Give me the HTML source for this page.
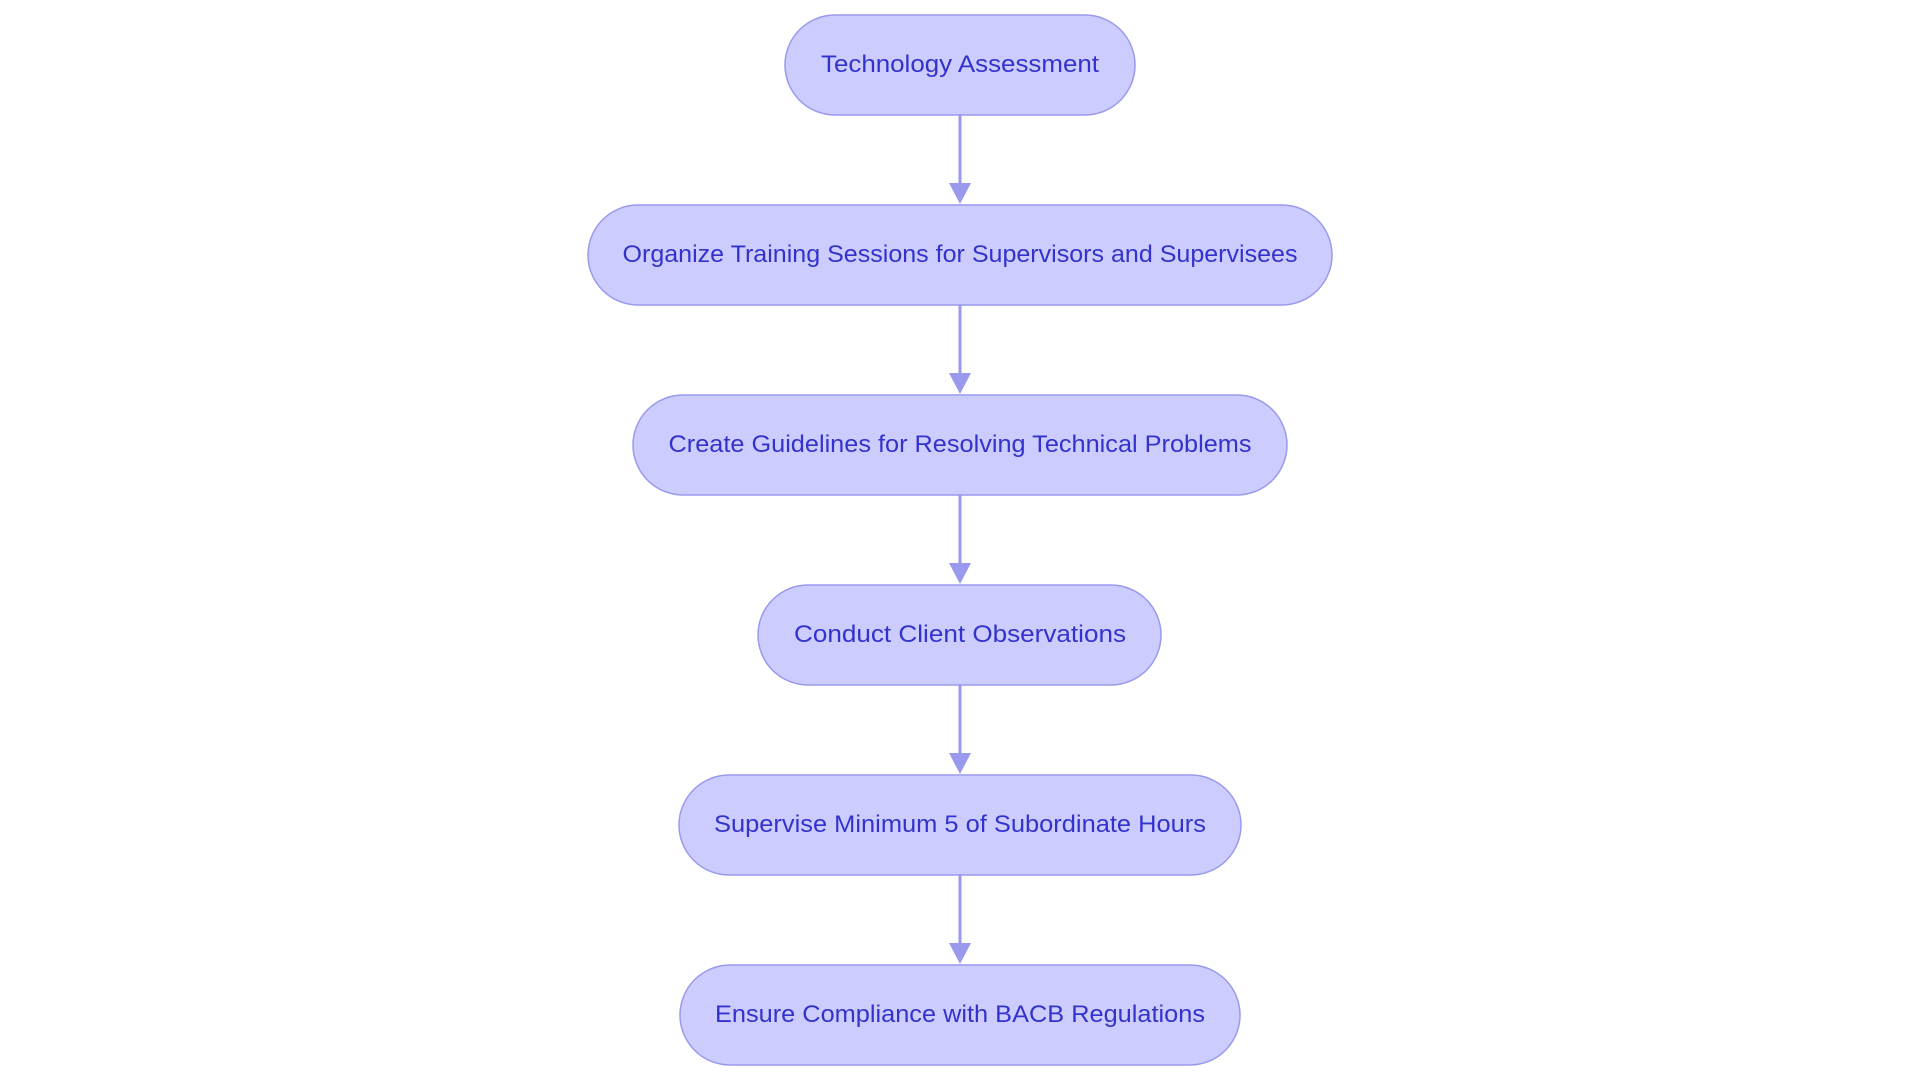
<!DOCTYPE html>
<html><head><meta charset="utf-8"><style>html,body{margin:0;padding:0;background:#fff;}svg{display:block}</style></head>
<body>
<svg width="1920" height="1083" viewBox="0 0 1920 1083" xmlns="http://www.w3.org/2000/svg">
<g fill="#ccccff" stroke="#9999ee" stroke-width="1.5">
<rect x="785" y="15" width="350" height="100" rx="50"/>
<rect x="588" y="205" width="744" height="100" rx="50"/>
<rect x="633" y="395" width="654" height="100" rx="50"/>
<rect x="758" y="585" width="403" height="100" rx="50"/>
<rect x="679" y="775" width="562" height="100" rx="50"/>
<rect x="680" y="965" width="560" height="100" rx="50"/>
</g>
<g stroke="#9999ee" stroke-width="3">
<line x1="960" y1="115" x2="960" y2="185"/>
<line x1="960" y1="305" x2="960" y2="375"/>
<line x1="960" y1="495" x2="960" y2="565"/>
<line x1="960" y1="685" x2="960" y2="755"/>
<line x1="960" y1="875" x2="960" y2="945"/>
</g>
<g fill="#9999ee">
<path d="M949 183 L971 183 L960 204 Z"/>
<path d="M949 373 L971 373 L960 394 Z"/>
<path d="M949 563 L971 563 L960 584 Z"/>
<path d="M949 753 L971 753 L960 774 Z"/>
<path d="M949 943 L971 943 L960 964 Z"/>
</g>
<g fill="#3333cc" font-family="Liberation Sans, sans-serif" font-size="24" text-anchor="middle" lengthAdjust="spacingAndGlyphs">
<text x="960" y="72" textLength="278" lengthAdjust="spacingAndGlyphs">Technology Assessment</text>
<text x="960" y="262" textLength="675" lengthAdjust="spacingAndGlyphs">Organize Training Sessions for Supervisors and Supervisees</text>
<text x="960" y="452" textLength="583" lengthAdjust="spacingAndGlyphs">Create Guidelines for Resolving Technical Problems</text>
<text x="960" y="642" textLength="332" lengthAdjust="spacingAndGlyphs">Conduct Client Observations</text>
<text x="960" y="832" textLength="492" lengthAdjust="spacingAndGlyphs">Supervise Minimum 5 of Subordinate Hours</text>
<text x="960" y="1022" textLength="490" lengthAdjust="spacingAndGlyphs">Ensure Compliance with BACB Regulations</text>
</g>
</svg>
</body></html>
